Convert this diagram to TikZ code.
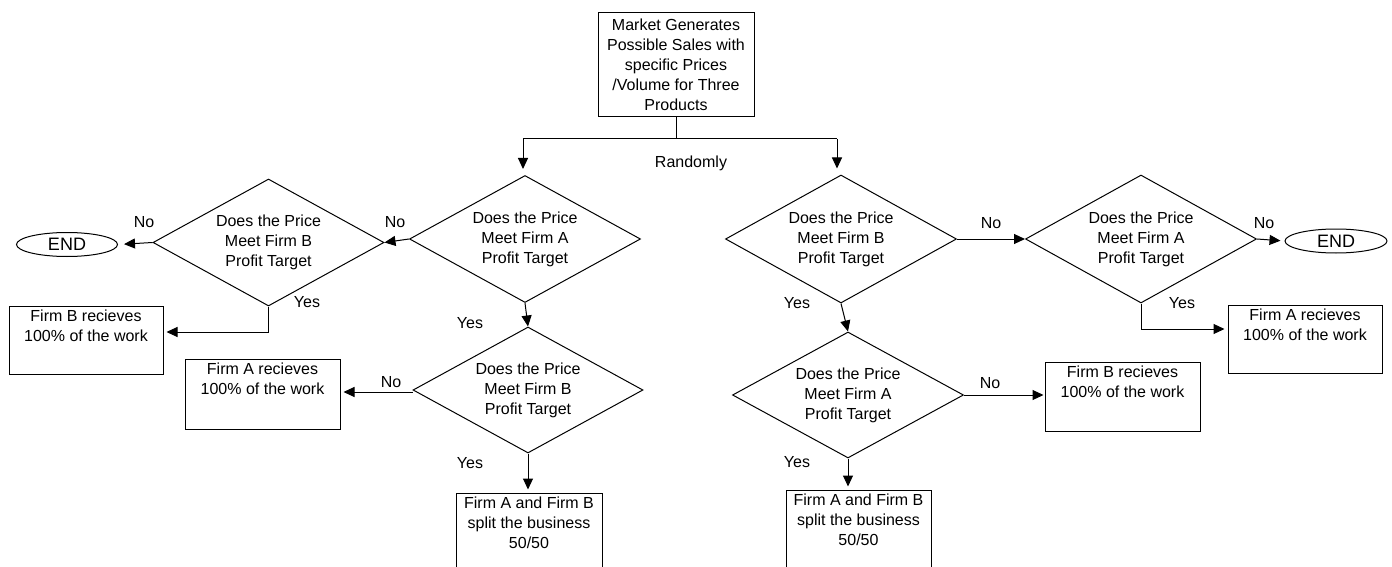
\documentclass[tikz,border=0pt]{standalone}
\usepackage{fontspec}
\setmainfont{Liberation Sans}
\usetikzlibrary{shapes.geometric,arrows.meta}
\begin{document}
\begin{tikzpicture}[x=1pt,y=-1pt,line width=1pt,
  every node/.style={font=\fontsize{16}{20}\selectfont},
  dec/.style={draw,diamond,aspect=1.82,minimum width=231pt,minimum height=127pt,inner sep=0pt,align=center},
  box/.style={draw,rectangle,inner sep=0pt},
  intext/.style={anchor=north,inner sep=0pt,align=center,yshift=-4pt},
  term/.style={draw,ellipse,minimum width=101pt,minimum height=24pt,inner sep=0pt,font=\fontsize{18}{20}\selectfont},
  arr/.style={-{Triangle[length=11pt,width=10pt]}},
  lbl/.style={inner sep=0pt}]
\useasboundingbox (0,0) rectangle (1392,567);
\clip (0,0) rectangle (1392,567);

% top
\node[box,minimum width=156pt,minimum height=104pt,align=center] (mkt) at (676,65)
  {Market Generates\\Possible Sales with\\specific Prices\\/Volume for Three\\Products};
\coordinate (jL) at (523,139);
\coordinate (jR) at (837,139);
\node[lbl] (rand) at (691,163) {Randomly};

% left branch
\node[dec] (L1) at (525,239) {Does the Price\\Meet Firm A\\Profit Target};
\node[dec] (L2) at (268.5,242.5) {Does the Price\\Meet Firm B\\Profit Target};
\node[dec,minimum width=230pt,minimum height=126pt] (L3) at (528,390) {Does the Price\\Meet Firm B\\Profit Target};
\node[term] (endL) at (67,244.5) {END};
\node[box,minimum width=154pt,minimum height=68pt,
  label={[intext]north:Firm B recieves\\100\% of the work}] (bBL) at (86,340) {};
\node[box,minimum width=155pt,minimum height=70pt,
  label={[intext]north:Firm A recieves\\100\% of the work}] (bAL) at (262.5,394) {};
\node[box,minimum width=146pt,minimum height=90pt,
  label={[intext]north:Firm A and Firm B\\split the business\\50/50}] (sL) at (529,538) {};

% right branch
\node[dec,minimum height=128pt] (R1) at (841,239) {Does the Price\\Meet Firm B\\Profit Target};
\node[dec,minimum height=128pt] (R2) at (1141,239) {Does the Price\\Meet Firm A\\Profit Target};
\node[dec,minimum height=126pt] (R3) at (848,395) {Does the Price\\Meet Firm A\\Profit Target};
\node[term,minimum width=102pt] (endR) at (1336,241) {END};
\node[box,minimum width=154pt,minimum height=68pt,
  label={[intext]north:Firm A recieves\\100\% of the work}] (bAR) at (1305,339) {};
\node[box,minimum width=155pt,minimum height=69pt,
  label={[intext]north:Firm B recieves\\100\% of the work}] (bBR) at (1122.5,396.5) {};
\node[box,minimum width=145pt,minimum height=90pt,
  label={[intext]north:Firm A and Firm B\\split the business\\50/50}] (sR) at (858.5,535) {};

% connectors top
\draw (mkt.south) -- (mkt.south |- jL);
\draw (jL) -- (jR);
\draw[arr,shorten >=6pt] (jL) -- (jL |- L1.north);
\draw[arr,shorten >=6pt] (jR) -- (jR |- R1.north);

% left connectors
\draw[arr] (L1.west) -- (L2.east);
\node[lbl] (noL1) at (395,222) {No};
\draw[arr,shorten >=6pt] (L2.west) -- (endL.east);
\node[lbl] (noL2) at (144,222) {No};
\draw[arr,shorten >=3pt] (L2.south) |- ([yshift=8pt]bBL.east);
\node[lbl] (yesL2) at (307,302) {Yes};
\draw[arr] (L1.south) -- (L3.north);
\node[lbl] (yesL1) at (470,323) {Yes};
\draw[arr,shorten >=3pt] ([yshift=-2pt]L3.west) -- ([yshift=-2pt]L3.west -| bAL.east);
\node[lbl] (noL3) at (391,382) {No};
\draw[arr,shorten >=3pt] (L3.south) -- (L3.south |- sL.north);
\node[lbl] (yesL3) at (470,463) {Yes};

% right connectors
\draw[arr] (R1.east) -- (R2.west);
\node[lbl] (noR1) at (991,223) {No};
\draw[arr,shorten >=4pt] (R2.east) -- (endR.west);
\node[lbl] (noR2) at (1264,223) {No};
\draw[arr,shorten >=3pt] (R2.south) |- ([yshift=10pt]bAR.west);
\node[lbl] (yesR2) at (1182,303) {Yes};
\draw[arr] (R1.south) -- (R3.north);
\node[lbl] (yesR1) at (797,303) {Yes};
\draw[arr,shorten >=1pt] (R3.east) -- (R3.east -| bBR.west);
\node[lbl] (noR3) at (990,383) {No};
\draw[arr,shorten >=3pt] (R3.south) -- (R3.south |- sR.north);
\node[lbl] (yesR3) at (797,462) {Yes};
\end{tikzpicture}
\end{document}
